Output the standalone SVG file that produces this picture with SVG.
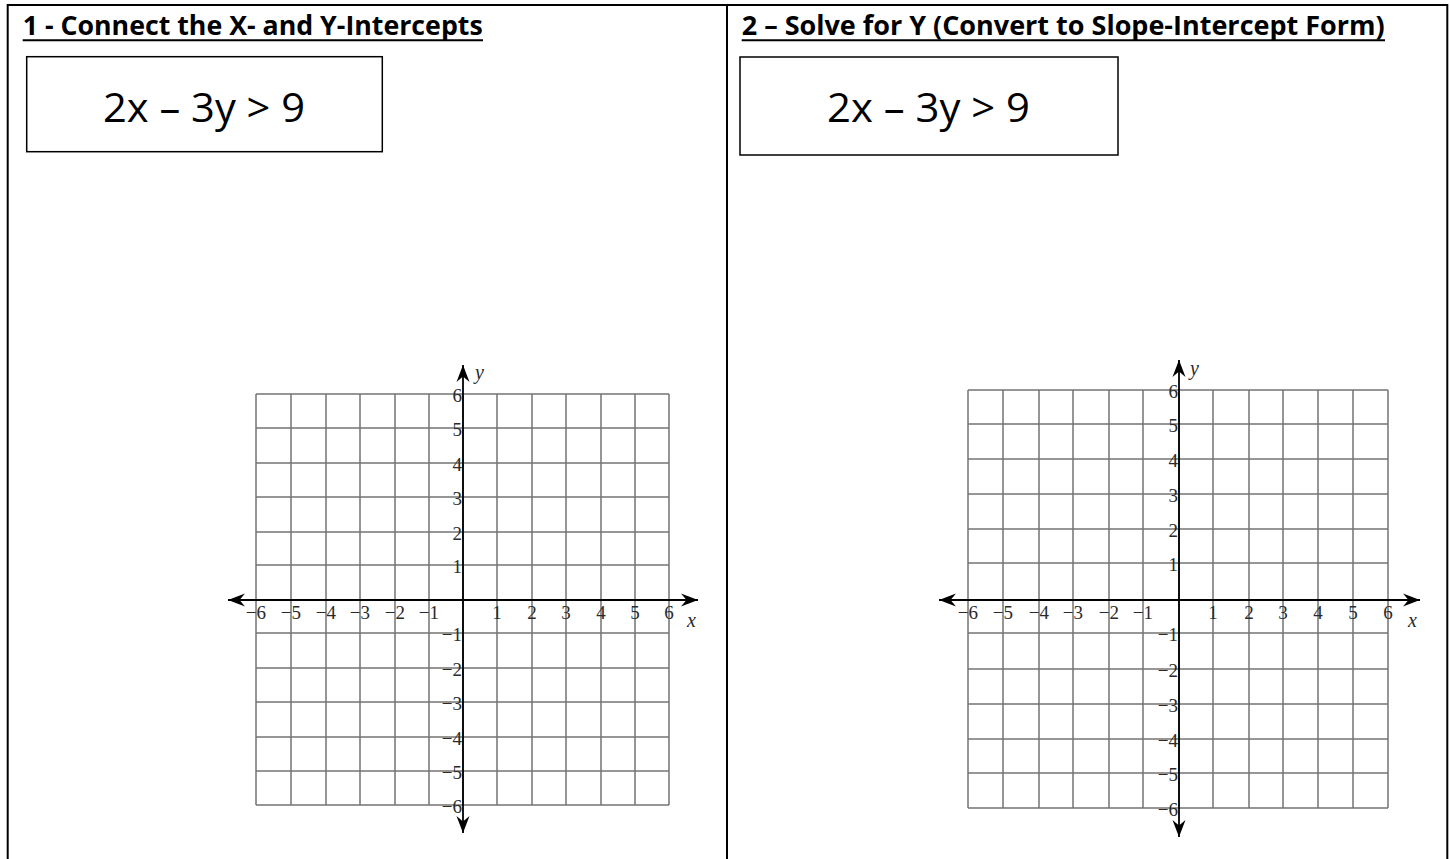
<svg xmlns="http://www.w3.org/2000/svg" width="1450" height="859" viewBox="0 0 1450 859">
<style>
.border{stroke:#000;stroke-width:2;fill:none}
.title{font-family:"Open Sans","Liberation Sans",sans-serif;font-weight:bold;font-size:26px;fill:#000}
.uline{stroke:#000;stroke-width:2}
.eqbox{fill:#fff;stroke:#000;stroke-width:1.5}
.eq{font-family:"Open Sans","Liberation Sans",sans-serif;font-size:41px;fill:#000}
.grid{stroke:#747474;stroke-width:1.5;fill:none}
.axis{stroke:#000;stroke-width:1.8;fill:none;marker-start:url(#ah);marker-end:url(#ah)}
.num{font-family:"Liberation Serif","Times New Roman",serif;font-size:19px;fill:#2a2a2a}
.ne{text-anchor:end}
.nm{text-anchor:middle}
.var{font-family:"Liberation Serif","Times New Roman",serif;font-size:20px;font-style:italic;fill:#2a2a2a}
</style>
<defs>
<marker id="ah" viewBox="-17 -7 17 14" refX="0" refY="0" markerWidth="17" markerHeight="14" markerUnits="userSpaceOnUse" orient="auto-start-reverse">
<path d="M0,0 L-17,-6.5 L-11.5,0 L-17,6.5 Z" fill="#000"/>
</marker>
</defs>
<rect width="1450" height="859" fill="#fff"/>

<g id="table-frame">
<path class="border" d="M7.7 859 V5 H1447.3 V859 M727 5 V859"/>
</g>

<g id="panel-1">
<g id="title-1">
<text class="title" x="22.7" y="35" textLength="460" lengthAdjust="spacingAndGlyphs">1 - Connect the X- and Y-Intercepts</text>
<line class="uline" x1="22.7" y1="40.3" x2="483" y2="40.3"/>
</g>
<g id="equation-1">
<rect class="eqbox" x="26.7" y="56.7" width="355.6" height="95"/>
<text class="eq" x="103" y="121.7" textLength="202" lengthAdjust="spacingAndGlyphs">2x – 3y &gt; 9</text>
</g>
<g id="graph-1">
<path class="grid" d="M256 394V805M291 394V805M326 394V805M360 394V805M395 394V805M429 394V805M463 394V805M497 394V805M532 394V805M566 394V805M601 394V805M635 394V805M669 394V805M256 394H669M256 428H669M256 463H669M256 497H669M256 532H669M256 565H669M256 600H669M256 633H669M256 668H669M256 702H669M256 737H669M256 771H669M256 805H669"/>
<g id="axes-1">
<path class="axis" d="M228 600H698"/>
<path class="axis" d="M463 365V833"/>
</g>
<g class="num">
<text class="ne" x="266" y="619">−6</text>
<text class="ne" x="301" y="619">−5</text>
<text class="ne" x="336" y="619">−4</text>
<text class="ne" x="370" y="619">−3</text>
<text class="ne" x="405" y="619">−2</text>
<text class="ne" x="439" y="619">−1</text>
<text class="nm" x="497" y="619">1</text>
<text class="nm" x="532" y="619">2</text>
<text class="nm" x="566" y="619">3</text>
<text class="nm" x="601" y="619">4</text>
<text class="nm" x="635" y="619">5</text>
<text class="nm" x="669" y="619">6</text>
<text class="ne" x="462" y="401.5">6</text>
<text class="ne" x="462" y="435.5">5</text>
<text class="ne" x="462" y="470.5">4</text>
<text class="ne" x="462" y="504.5">3</text>
<text class="ne" x="462" y="539.5">2</text>
<text class="ne" x="462" y="572.5">1</text>
<text class="ne" x="462" y="640.5">−1</text>
<text class="ne" x="462" y="675.5">−2</text>
<text class="ne" x="462" y="709.5">−3</text>
<text class="ne" x="462" y="744.5">−4</text>
<text class="ne" x="462" y="778.5">−5</text>
<text class="ne" x="462" y="812.5">−6</text>
</g>
<text class="var" x="687" y="627">x</text>
<text class="var" x="475" y="379">y</text>
</g>
</g>

<g id="panel-2">
<g id="title-2">
<text class="title" x="741.7" y="35" textLength="643" lengthAdjust="spacingAndGlyphs">2 – Solve for Y (Convert to Slope-Intercept Form)</text>
<line class="uline" x1="741.7" y1="40.3" x2="1385" y2="40.3"/>
</g>
<g id="equation-2">
<rect class="eqbox" x="740" y="57" width="378" height="98"/>
<text class="eq" x="827" y="122" textLength="203" lengthAdjust="spacingAndGlyphs">2x – 3y &gt; 9</text>
</g>
<g id="graph-2">
<path class="grid" d="M968 390V808M1003 390V808M1039 390V808M1073 390V808M1109 390V808M1143 390V808M1179 390V808M1213 390V808M1249 390V808M1283 390V808M1318 390V808M1353 390V808M1388 390V808M968 390H1388M968 424H1388M968 459H1388M968 494H1388M968 529H1388M968 563H1388M968 600H1388M968 633H1388M968 669H1388M968 704H1388M968 739H1388M968 773H1388M968 808H1388"/>
<g id="axes-2">
<path class="axis" d="M939 600H1420"/>
<path class="axis" d="M1179 360V837"/>
</g>
<g class="num">
<text class="ne" x="978" y="619">−6</text>
<text class="ne" x="1013" y="619">−5</text>
<text class="ne" x="1049" y="619">−4</text>
<text class="ne" x="1083" y="619">−3</text>
<text class="ne" x="1119" y="619">−2</text>
<text class="ne" x="1153" y="619">−1</text>
<text class="nm" x="1213" y="619">1</text>
<text class="nm" x="1249" y="619">2</text>
<text class="nm" x="1283" y="619">3</text>
<text class="nm" x="1318" y="619">4</text>
<text class="nm" x="1353" y="619">5</text>
<text class="nm" x="1388" y="619">6</text>
<text class="ne" x="1178" y="397.5">6</text>
<text class="ne" x="1178" y="431.5">5</text>
<text class="ne" x="1178" y="466.5">4</text>
<text class="ne" x="1178" y="501.5">3</text>
<text class="ne" x="1178" y="536.5">2</text>
<text class="ne" x="1178" y="570.5">1</text>
<text class="ne" x="1178" y="640.5">−1</text>
<text class="ne" x="1178" y="676.5">−2</text>
<text class="ne" x="1178" y="711.5">−3</text>
<text class="ne" x="1178" y="746.5">−4</text>
<text class="ne" x="1178" y="780.5">−5</text>
<text class="ne" x="1178" y="815.5">−6</text>
</g>
<text class="var" x="1408" y="627">x</text>
<text class="var" x="1190" y="375">y</text>
</g>
</g>
</svg>
